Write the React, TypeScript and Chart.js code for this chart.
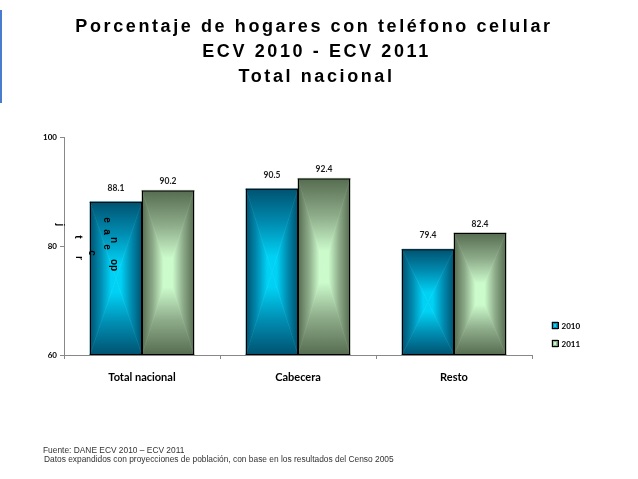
import { useEffect, useRef } from "react";
import { Chart, registerables } from "chart.js";

Chart.register(...registerables);

// ---- data ----
const categories = ["Total nacional", "Cabecera", "Resto"];
const seriesNames = ["2010", "2011"];
const values2010 = [88.1, 90.5, 79.4];
const values2011 = [90.2, 92.4, 82.4];
const yMin = 60;
const yMax = 100;
const yStep = 20;

const titleLines = [
  "Porcentaje de hogares con teléfono celular",
  "ECV 2010 - ECV 2011",
  "Total nacional",
];
const sourceNotes = [
  "Fuente: DANE ECV 2010 – ECV 2011",
  "Datos expandidos con proyecciones de población, con base en los resultados del Censo 2005",
];

// stray vertical axis caption letters (rotated glyphs)
const captionGlyphs: [string, number, number][] = [
  ["j", 52, 217],
  ["t", 70, 229],
  ["r", 71, 250],
  ["c", 84, 245],
  ["e", 99, 212],
  ["a", 99, 224],
  ["e", 99, 239],
  ["n", 106, 232],
  ["op", 106, 257],
];

// ---- styling ----
const palettes = [
  { edge: "#005270", mid: "#008db2", center: "#00d2f5" },
  { edge: "#566c50", mid: "#8dab89", center: "#cbfacb" },
];
const labelOffsets = [14, 9];
const W = 622;
const H = 463;

function fillFromCenter(
  ctx: CanvasRenderingContext2D,
  l: number,
  t: number,
  r: number,
  b: number,
  p: { edge: string; mid: string; center: string }
) {
  const cx = (l + r) / 2;
  const cy = (t + b) / 2;
  const parts: [number, number, number, number, number, number, number, number, number, number][] = [
    // triangle vertices, gradient start -> end
    [l, t, r, t, cx, cy, 0, t, 0, cy],
    [l, b, r, b, cx, cy, 0, b, 0, cy],
    [l, t, l, b, cx, cy, l, 0, cx, 0],
    [r, t, r, b, cx, cy, r, 0, cx, 0],
  ];
  for (const [x1, y1, x2, y2, x3, y3, gx0, gy0, gx1, gy1] of parts) {
    const g = ctx.createLinearGradient(gx0, gy0, gx1, gy1);
    g.addColorStop(0, p.edge);
    g.addColorStop(0.42, p.mid);
    g.addColorStop(0.82, p.center);
    g.addColorStop(1, p.center);
    ctx.beginPath();
    ctx.moveTo(x1, y1);
    ctx.lineTo(x2, y2);
    ctx.lineTo(x3, y3);
    ctx.closePath();
    ctx.fillStyle = g;
    ctx.fill();
    ctx.strokeStyle = g;
    ctx.lineWidth = 0.6;
    ctx.stroke();
  }
}

const barFillPlugin = {
  id: "barFill",
  beforeDatasetsDraw(chart: any) {
    const ctx: CanvasRenderingContext2D = chart.ctx;
    const area = chart.chartArea;
    ctx.save();
    ctx.beginPath();
    ctx.rect(area.left, area.top, area.right - area.left, area.bottom - area.top);
    ctx.clip();
    chart.getSortedVisibleDatasetMetas().forEach((meta: any) => {
      const p = palettes[meta.index];
      meta.data.forEach((el: any) => {
        const { x, y, base, width } = el.getProps(["x", "y", "base", "width"], true);
        const top = Math.max(Math.min(y, base), area.top);
        const bottom = Math.min(Math.max(y, base), area.bottom);
        fillFromCenter(ctx, x - width / 2, top, x + width / 2, bottom, p);
      });
    });
    ctx.restore();
  },
};

const valueLabelPlugin = {
  id: "valueLabels",
  afterDatasetsDraw(chart: any) {
    const ctx: CanvasRenderingContext2D = chart.ctx;
    ctx.save();
    ctx.font = "bold 8.5px Lato, 'DejaVu Sans', sans-serif";
    ctx.fillStyle = "#1a1a1a";
    ctx.textAlign = "center";
    ctx.textBaseline = "middle";
    chart.getSortedVisibleDatasetMetas().forEach((meta: any) => {
      const ds = chart.data.datasets[meta.index];
      meta.data.forEach((el: any, i: number) => {
        const { x, y } = el.getProps(["x", "y"], true);
        ctx.fillText(Number(ds.data[i]).toFixed(1), x, y - labelOffsets[meta.index]);
      });
    });
    ctx.restore();
  },
};

const decorPlugin = {
  id: "decor",
  afterDraw(chart: any) {
    const ctx: CanvasRenderingContext2D = chart.ctx;
    const area = chart.chartArea;
    ctx.save();

    // bottom edge of the bars along the axis
    ctx.strokeStyle = "#000";
    ctx.lineWidth = 1;
    chart.getSortedVisibleDatasetMetas().forEach((meta: any) => {
      meta.data.forEach((el: any) => {
        const { x, width } = el.getProps(["x", "width"], true);
        ctx.beginPath();
        ctx.moveTo(x - width / 2, Math.round(area.bottom) - 0.5);
        ctx.lineTo(x + width / 2, Math.round(area.bottom) - 0.5);
        ctx.stroke();
      });
    });

    // title
    ctx.fillStyle = "#000";
    ctx.textAlign = "center";
    ctx.textBaseline = "alphabetic";
    ctx.font = "bold 18px 'Liberation Sans', Arial, sans-serif";
    (ctx as any).letterSpacing = "2.6px";
    const titleBaselines = [24, 49, 74];
    const titleCenters = [306, 308.5, 308.5];
    titleLines.forEach((line, i) => ctx.fillText(line, titleCenters[i], titleBaselines[i]));
    (ctx as any).letterSpacing = "0px";

    // legend
    const legendTop = [314, 332];
    seriesNames.forEach((name, i) => {
      const top = legendTop[i];
      fillFromCenter(ctx, 544, top, 550, top + 7, palettes[i]);
      ctx.strokeStyle = "#000";
      ctx.lineWidth = 1;
      ctx.strokeRect(544.5, top + 0.5, 6, 6);
      ctx.fillStyle = "#000";
      ctx.font = "bold 8px Lato, 'DejaVu Sans', sans-serif";
      ctx.textAlign = "left";
      ctx.textBaseline = "middle";
      ctx.fillText(name, 553.5, top + 4.5);
    });

    // stray rotated caption letters
    ctx.fillStyle = "#000";
    ctx.font = "bold 10px 'Liberation Sans', Arial, sans-serif";
    ctx.textAlign = "center";
    ctx.textBaseline = "middle";
    captionGlyphs.forEach(([g, gx, gy]) => {
      ctx.save();
      ctx.translate(gx, gy);
      ctx.rotate(Math.PI / 2);
      ctx.fillText(g, 0, 0);
      ctx.restore();
    });

    // source notes
    ctx.fillStyle = "#333";
    ctx.font = "8.4px 'Liberation Sans', Arial, sans-serif";
    ctx.textAlign = "left";
    ctx.textBaseline = "alphabetic";
    ctx.fillText(sourceNotes[0], 35, 444.5);
    ctx.fillText(sourceNotes[1], 36, 454);

    ctx.restore();
  },
};

export default function App() {
  const canvasRef = useRef<HTMLCanvasElement | null>(null);

  useEffect(() => {
    if (!canvasRef.current) return;
    const chart = new Chart(canvasRef.current, {
      type: "bar",
      data: {
        labels: categories,
        datasets: [
          {
            label: seriesNames[0],
            data: values2010,
            backgroundColor: "rgba(0,0,0,0)",
            borderColor: "#000",
            borderWidth: 1,
            borderSkipped: false,
            categoryPercentage: 0.667,
            barPercentage: 1,
          },
          {
            label: seriesNames[1],
            data: values2011,
            backgroundColor: "rgba(0,0,0,0)",
            borderColor: "#000",
            borderWidth: 1,
            borderSkipped: false,
            categoryPercentage: 0.667,
            barPercentage: 1,
          },
        ],
      },
      options: {
        responsive: false,
        animation: false,
        layout: { padding: { left: 8, right: 98, top: 129, bottom: 86 } },
        plugins: {
          legend: { display: false },
          title: { display: false },
          tooltip: { enabled: false },
        },
        scales: {
          x: {
            afterFit: (s: any) => {
              s.height = 30;
            },
            grid: {
              offset: true,
              drawOnChartArea: false,
              tickLength: 4,
              color: "#888",
            },
            border: { color: "#888" },
            ticks: {
              color: "#000",
              padding: 12,
              font: { family: "Lato, 'DejaVu Sans', sans-serif", size: 11, weight: "bold" },
            },
          },
          y: {
            min: yMin,
            max: yMax,
            afterFit: (s: any) => {
              s.width = 48;
            },
            grid: {
              drawOnChartArea: false,
              tickLength: 4,
              color: "#888",
            },
            border: { color: "#888" },
            ticks: {
              stepSize: yStep,
              color: "#000",
              padding: 3,
              font: { family: "Lato, 'DejaVu Sans', sans-serif", size: 8, weight: "bold" },
            },
          },
        },
      },
      plugins: [barFillPlugin, valueLabelPlugin, decorPlugin],
    });
    return () => chart.destroy();
  }, []);

  return (
    <div style={{ position: "relative", width: W, height: H }}>
      <div
        style={{
          position: "fixed",
          left: 0,
          top: 10,
          width: 2,
          height: 93,
          background: "#4a7bcc",
        }}
      />
      <canvas ref={canvasRef} width={W} height={H} style={{ display: "block" }} />
    </div>
  );
}
